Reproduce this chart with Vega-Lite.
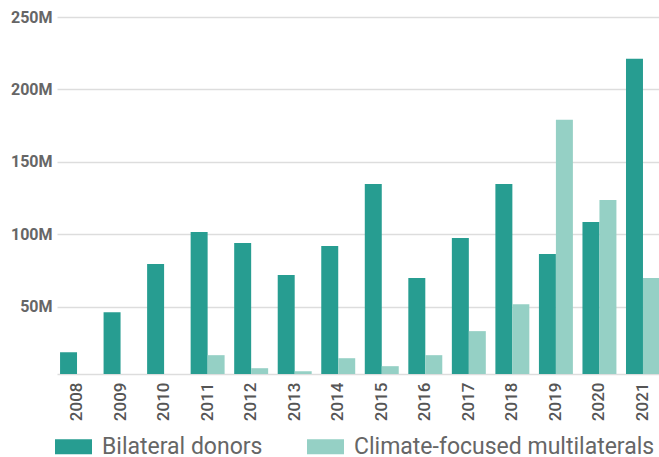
{
  "$schema": "https://vega.github.io/schema/vega-lite/v6.json",
  "autosize": {"type": "none"},
  "padding": {"left": 57, "top": 17, "right": 0, "bottom": 83},
  "width": 602,
  "height": 357,
  "background": "white",
  "config": {"view": {"stroke": null}, "font": "Roboto"},
  "data": {"values": [
    {"year": "2008", "series": "Bilateral donors", "value": 18.5},
    {"year": "2009", "series": "Bilateral donors", "value": 46.2},
    {"year": "2010", "series": "Bilateral donors", "value": 79.4},
    {"year": "2011", "series": "Bilateral donors", "value": 101.5},
    {"year": "2012", "series": "Bilateral donors", "value": 93.9},
    {"year": "2013", "series": "Bilateral donors", "value": 71.8},
    {"year": "2014", "series": "Bilateral donors", "value": 91.8},
    {"year": "2015", "series": "Bilateral donors", "value": 134.7},
    {"year": "2016", "series": "Bilateral donors", "value": 69.7},
    {"year": "2017", "series": "Bilateral donors", "value": 97.4},
    {"year": "2018", "series": "Bilateral donors", "value": 134.7},
    {"year": "2019", "series": "Bilateral donors", "value": 86.3},
    {"year": "2020", "series": "Bilateral donors", "value": 108.4},
    {"year": "2021", "series": "Bilateral donors", "value": 221.2},
    {"year": "2011", "series": "Climate-focused multilaterals", "value": 16.5},
    {"year": "2012", "series": "Climate-focused multilaterals", "value": 7.5},
    {"year": "2013", "series": "Climate-focused multilaterals", "value": 5.4},
    {"year": "2014", "series": "Climate-focused multilaterals", "value": 14.4},
    {"year": "2015", "series": "Climate-focused multilaterals", "value": 8.9},
    {"year": "2016", "series": "Climate-focused multilaterals", "value": 16.5},
    {"year": "2017", "series": "Climate-focused multilaterals", "value": 33.1},
    {"year": "2018", "series": "Climate-focused multilaterals", "value": 51.7},
    {"year": "2019", "series": "Climate-focused multilaterals", "value": 179},
    {"year": "2020", "series": "Climate-focused multilaterals", "value": 123.7},
    {"year": "2021", "series": "Climate-focused multilaterals", "value": 69.7}
  ]},
  "mark": {"type": "bar"},
  "encoding": {
    "x": {
      "field": "year", "type": "nominal", "title": null,
      "scale": {"paddingInner": 0.22, "paddingOuter": 0.07, "range": [0, 606]},
      "axis": {
        "labelAngle": -90, "labelAlign": "right", "labelBaseline": "middle",
        "ticks": false, "labelPadding": 8,
        "domainColor": "#dddddd", "domainWidth": 1.5,
        "labelFont": "Roboto", "labelFontSize": 17, "labelFontWeight": 500, "labelColor": "#555555"
      }
    },
    "xOffset": {"field": "series", "type": "nominal", "scale": {"paddingInner": 0, "paddingOuter": 0}},
    "y": {
      "field": "value", "type": "quantitative", "title": null,
      "scale": {"domain": [3.5, 250], "nice": false, "zero": false},
      "axis": {
        "values": [50, 100, 150, 200, 250],
        "labelExpr": "datum.value + 'M'",
        "domain": false, "ticks": false, "labelPadding": 5,
        "gridColor": "#dddddd", "gridWidth": 1.5,
        "labelFont": "Roboto", "labelFontSize": 16, "labelFontWeight": "bold", "labelColor": "#666666"
      }
    },
    "y2": {"datum": 3.5},
    "color": {
      "field": "series", "type": "nominal",
      "scale": {"domain": ["Bilateral donors", "Climate-focused multilaterals"], "range": ["#279d91", "#95d0c5"]},
      "legend": {
        "title": null, "orient": "none", "direction": "horizontal",
        "legendX": -2, "legendY": 411,
        "symbolType": "M-1,-0.405H1V0.405H-1Z", "symbolSize": 1369, "symbolStrokeWidth": 0, "symbolOpacity": 1,
        "labelFont": "Roboto", "labelFontSize": 23, "labelColor": "#666666", "labelOffset": 10,
        "columnPadding": 44, "labelLimit": 400
      }
    }
  }
}
